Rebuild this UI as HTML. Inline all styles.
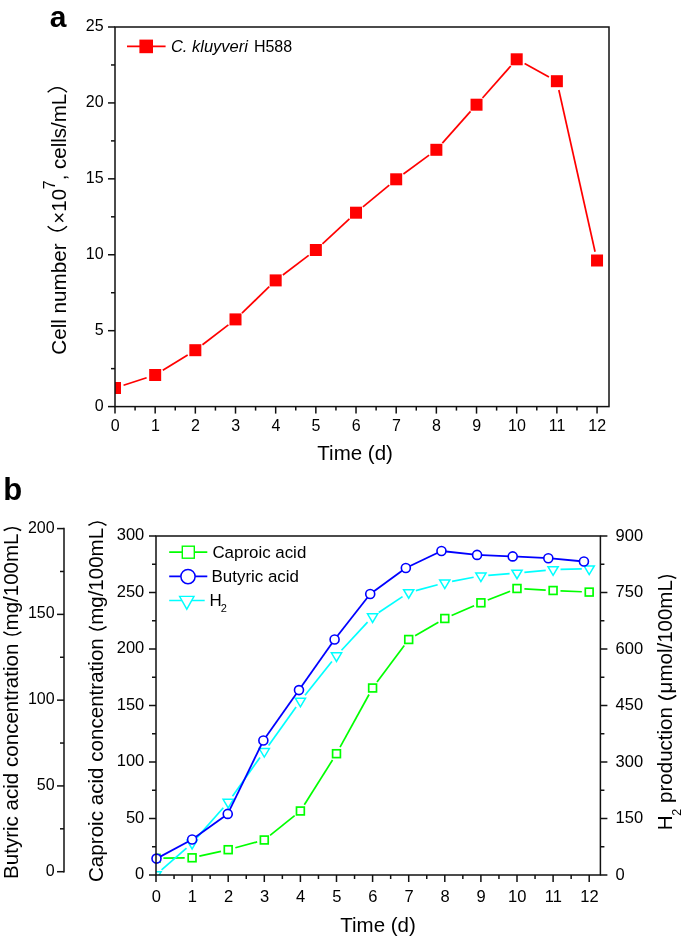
<!DOCTYPE html>
<html><head><meta charset="utf-8"><style>
html,body{margin:0;padding:0;background:#fff;}
svg{display:block;will-change:transform;}
text{font-family:"Liberation Sans", sans-serif;fill:#000;}
</style></head><body>
<svg width="685" height="939" viewBox="0 0 685 939">
<line x1="108" y1="406.6" x2="115" y2="406.6" stroke="#111" stroke-width="1.5"/>
<text x="103.6" y="410.9" font-size="16" text-anchor="end">0</text>
<line x1="111" y1="368.64" x2="115" y2="368.64" stroke="#111" stroke-width="1.5"/>
<line x1="108" y1="330.68" x2="115" y2="330.68" stroke="#111" stroke-width="1.5"/>
<text x="103.6" y="334.98" font-size="16" text-anchor="end">5</text>
<line x1="111" y1="292.72" x2="115" y2="292.72" stroke="#111" stroke-width="1.5"/>
<line x1="108" y1="254.76" x2="115" y2="254.76" stroke="#111" stroke-width="1.5"/>
<text x="103.6" y="259.06" font-size="16" text-anchor="end">10</text>
<line x1="111" y1="216.8" x2="115" y2="216.8" stroke="#111" stroke-width="1.5"/>
<line x1="108" y1="178.84" x2="115" y2="178.84" stroke="#111" stroke-width="1.5"/>
<text x="103.6" y="183.14" font-size="16" text-anchor="end">15</text>
<line x1="111" y1="140.88" x2="115" y2="140.88" stroke="#111" stroke-width="1.5"/>
<line x1="108" y1="102.92" x2="115" y2="102.92" stroke="#111" stroke-width="1.5"/>
<text x="103.6" y="107.22" font-size="16" text-anchor="end">20</text>
<line x1="111" y1="64.96" x2="115" y2="64.96" stroke="#111" stroke-width="1.5"/>
<line x1="108" y1="27" x2="115" y2="27" stroke="#111" stroke-width="1.5"/>
<text x="103.6" y="31.3" font-size="16" text-anchor="end">25</text>
<line x1="115" y1="406.6" x2="115" y2="413.6" stroke="#111" stroke-width="1.5"/>
<text x="115.2" y="430.6" font-size="16" text-anchor="middle">0</text>
<line x1="135.09" y1="406.6" x2="135.09" y2="410.6" stroke="#111" stroke-width="1.5"/>
<line x1="155.17" y1="406.6" x2="155.17" y2="413.6" stroke="#111" stroke-width="1.5"/>
<text x="155.37" y="430.6" font-size="16" text-anchor="middle">1</text>
<line x1="175.25" y1="406.6" x2="175.25" y2="410.6" stroke="#111" stroke-width="1.5"/>
<line x1="195.34" y1="406.6" x2="195.34" y2="413.6" stroke="#111" stroke-width="1.5"/>
<text x="195.54" y="430.6" font-size="16" text-anchor="middle">2</text>
<line x1="215.43" y1="406.6" x2="215.43" y2="410.6" stroke="#111" stroke-width="1.5"/>
<line x1="235.51" y1="406.6" x2="235.51" y2="413.6" stroke="#111" stroke-width="1.5"/>
<text x="235.71" y="430.6" font-size="16" text-anchor="middle">3</text>
<line x1="255.59" y1="406.6" x2="255.59" y2="410.6" stroke="#111" stroke-width="1.5"/>
<line x1="275.68" y1="406.6" x2="275.68" y2="413.6" stroke="#111" stroke-width="1.5"/>
<text x="275.88" y="430.6" font-size="16" text-anchor="middle">4</text>
<line x1="295.76" y1="406.6" x2="295.76" y2="410.6" stroke="#111" stroke-width="1.5"/>
<line x1="315.85" y1="406.6" x2="315.85" y2="413.6" stroke="#111" stroke-width="1.5"/>
<text x="316.05" y="430.6" font-size="16" text-anchor="middle">5</text>
<line x1="335.94" y1="406.6" x2="335.94" y2="410.6" stroke="#111" stroke-width="1.5"/>
<line x1="356.02" y1="406.6" x2="356.02" y2="413.6" stroke="#111" stroke-width="1.5"/>
<text x="356.22" y="430.6" font-size="16" text-anchor="middle">6</text>
<line x1="376.11" y1="406.6" x2="376.11" y2="410.6" stroke="#111" stroke-width="1.5"/>
<line x1="396.19" y1="406.6" x2="396.19" y2="413.6" stroke="#111" stroke-width="1.5"/>
<text x="396.39" y="430.6" font-size="16" text-anchor="middle">7</text>
<line x1="416.28" y1="406.6" x2="416.28" y2="410.6" stroke="#111" stroke-width="1.5"/>
<line x1="436.36" y1="406.6" x2="436.36" y2="413.6" stroke="#111" stroke-width="1.5"/>
<text x="436.56" y="430.6" font-size="16" text-anchor="middle">8</text>
<line x1="456.44" y1="406.6" x2="456.44" y2="410.6" stroke="#111" stroke-width="1.5"/>
<line x1="476.53" y1="406.6" x2="476.53" y2="413.6" stroke="#111" stroke-width="1.5"/>
<text x="476.73" y="430.6" font-size="16" text-anchor="middle">9</text>
<line x1="496.62" y1="406.6" x2="496.62" y2="410.6" stroke="#111" stroke-width="1.5"/>
<line x1="516.7" y1="406.6" x2="516.7" y2="413.6" stroke="#111" stroke-width="1.5"/>
<text x="516.9" y="430.6" font-size="16" text-anchor="middle">10</text>
<line x1="536.79" y1="406.6" x2="536.79" y2="410.6" stroke="#111" stroke-width="1.5"/>
<line x1="556.87" y1="406.6" x2="556.87" y2="413.6" stroke="#111" stroke-width="1.5"/>
<text x="557.07" y="430.6" font-size="16" text-anchor="middle">11</text>
<line x1="576.96" y1="406.6" x2="576.96" y2="410.6" stroke="#111" stroke-width="1.5"/>
<line x1="597.04" y1="406.6" x2="597.04" y2="413.6" stroke="#111" stroke-width="1.5"/>
<text x="597.24" y="430.6" font-size="16" text-anchor="middle">12</text>
<text x="317.34" y="459.6" font-size="20.5" text-anchor="start">Time (d)</text>
<text transform="translate(65.7,354.8) rotate(-90)" font-size="20.7">Cell number</text>
<path d="M47.65,226.2 Q57.3,235.5 66.95,226.2" fill="none" stroke="#000" stroke-width="1.5"/>
<text transform="translate(65.7,223.7) rotate(-90)" font-size="20.5">×10</text>
<text transform="translate(54.5,189.2) rotate(-90)" font-size="16">7</text>
<text transform="translate(65.7,180.3) rotate(-90)" font-size="20.5">, cells/mL</text>
<path d="M47.65,92.2 Q57.3,83.3 66.95,92.2" fill="none" stroke="#000" stroke-width="1.5"/>
<text x="49.7" y="26.6" font-size="30" text-anchor="start" font-weight="bold">a</text>
<clipPath id="ca"><rect x="115" y="27" width="494" height="379.6"/></clipPath>
<g clip-path="url(#ca)">
<line x1="123.56" y1="385.23" x2="146.61" y2="377.77" stroke="#ff0000" stroke-width="1.7"/>
<line x1="162.83" y1="370.27" x2="187.68" y2="354.93" stroke="#ff0000" stroke-width="1.7"/>
<line x1="202.48" y1="344.72" x2="228.37" y2="324.88" stroke="#ff0000" stroke-width="1.7"/>
<line x1="241.97" y1="313.13" x2="269.22" y2="286.67" stroke="#ff0000" stroke-width="1.7"/>
<line x1="282.86" y1="274.97" x2="308.67" y2="255.43" stroke="#ff0000" stroke-width="1.7"/>
<line x1="322.45" y1="243.88" x2="349.42" y2="218.82" stroke="#ff0000" stroke-width="1.7"/>
<line x1="362.94" y1="206.95" x2="389.27" y2="185.05" stroke="#ff0000" stroke-width="1.7"/>
<line x1="403.44" y1="173.97" x2="429.11" y2="155.13" stroke="#ff0000" stroke-width="1.7"/>
<line x1="442.35" y1="143.08" x2="470.54" y2="111.42" stroke="#ff0000" stroke-width="1.7"/>
<line x1="482.49" y1="97.96" x2="510.74" y2="66.04" stroke="#ff0000" stroke-width="1.7"/>
<line x1="524.6" y1="63.61" x2="548.97" y2="76.89" stroke="#ff0000" stroke-width="1.7"/>
<line x1="558.84" y1="89.98" x2="595.07" y2="251.72" stroke="#ff0000" stroke-width="1.7"/>
<rect x="109" y="382" width="12" height="12" fill="#ff0000"/>
<rect x="149.17" y="369" width="12" height="12" fill="#ff0000"/>
<rect x="189.34" y="344.2" width="12" height="12" fill="#ff0000"/>
<rect x="229.51" y="313.4" width="12" height="12" fill="#ff0000"/>
<rect x="269.68" y="274.4" width="12" height="12" fill="#ff0000"/>
<rect x="309.85" y="244" width="12" height="12" fill="#ff0000"/>
<rect x="350.02" y="206.7" width="12" height="12" fill="#ff0000"/>
<rect x="390.19" y="173.3" width="12" height="12" fill="#ff0000"/>
<rect x="430.36" y="143.8" width="12" height="12" fill="#ff0000"/>
<rect x="470.53" y="98.7" width="12" height="12" fill="#ff0000"/>
<rect x="510.7" y="53.3" width="12" height="12" fill="#ff0000"/>
<rect x="550.87" y="75.2" width="12" height="12" fill="#ff0000"/>
<rect x="591.04" y="254.5" width="12" height="12" fill="#ff0000"/>
</g>
<line x1="127" y1="46.4" x2="165.6" y2="46.4" stroke="#ff0000" stroke-width="1.7"/>
<rect x="139.4" y="39.6" width="13.6" height="13.6" fill="#ff0000"/>
<text x="170.9" y="51.9" font-size="16.5" text-anchor="start" font-style="italic">C. kluyveri</text>
<text x="253.9" y="51.8" font-size="16" text-anchor="start">H588</text>
<line x1="149" y1="875" x2="156" y2="875" stroke="#111" stroke-width="1.5"/>
<text x="144.3" y="879.4" font-size="16.5" text-anchor="end">0</text>
<line x1="152" y1="846.75" x2="156" y2="846.75" stroke="#111" stroke-width="1.5"/>
<line x1="149" y1="818.5" x2="156" y2="818.5" stroke="#111" stroke-width="1.5"/>
<text x="144.3" y="822.9" font-size="16.5" text-anchor="end">50</text>
<line x1="152" y1="790.25" x2="156" y2="790.25" stroke="#111" stroke-width="1.5"/>
<line x1="149" y1="762" x2="156" y2="762" stroke="#111" stroke-width="1.5"/>
<text x="144.3" y="766.4" font-size="16.5" text-anchor="end">100</text>
<line x1="152" y1="733.75" x2="156" y2="733.75" stroke="#111" stroke-width="1.5"/>
<line x1="149" y1="705.5" x2="156" y2="705.5" stroke="#111" stroke-width="1.5"/>
<text x="144.3" y="709.9" font-size="16.5" text-anchor="end">150</text>
<line x1="152" y1="677.25" x2="156" y2="677.25" stroke="#111" stroke-width="1.5"/>
<line x1="149" y1="649" x2="156" y2="649" stroke="#111" stroke-width="1.5"/>
<text x="144.3" y="653.4" font-size="16.5" text-anchor="end">200</text>
<line x1="152" y1="620.75" x2="156" y2="620.75" stroke="#111" stroke-width="1.5"/>
<line x1="149" y1="592.5" x2="156" y2="592.5" stroke="#111" stroke-width="1.5"/>
<text x="144.3" y="596.9" font-size="16.5" text-anchor="end">250</text>
<line x1="152" y1="564.25" x2="156" y2="564.25" stroke="#111" stroke-width="1.5"/>
<line x1="149" y1="536" x2="156" y2="536" stroke="#111" stroke-width="1.5"/>
<text x="144.3" y="540.4" font-size="16.5" text-anchor="end">300</text>
<line x1="600.4" y1="875" x2="607.4" y2="875" stroke="#111" stroke-width="1.5"/>
<text x="615.6" y="879.9" font-size="16.5" text-anchor="start">0</text>
<line x1="600.4" y1="846.75" x2="604.4" y2="846.75" stroke="#111" stroke-width="1.5"/>
<line x1="600.4" y1="818.5" x2="607.4" y2="818.5" stroke="#111" stroke-width="1.5"/>
<text x="615.6" y="823.4" font-size="16.5" text-anchor="start">150</text>
<line x1="600.4" y1="790.25" x2="604.4" y2="790.25" stroke="#111" stroke-width="1.5"/>
<line x1="600.4" y1="762" x2="607.4" y2="762" stroke="#111" stroke-width="1.5"/>
<text x="615.6" y="766.9" font-size="16.5" text-anchor="start">300</text>
<line x1="600.4" y1="733.75" x2="604.4" y2="733.75" stroke="#111" stroke-width="1.5"/>
<line x1="600.4" y1="705.5" x2="607.4" y2="705.5" stroke="#111" stroke-width="1.5"/>
<text x="615.6" y="710.4" font-size="16.5" text-anchor="start">450</text>
<line x1="600.4" y1="677.25" x2="604.4" y2="677.25" stroke="#111" stroke-width="1.5"/>
<line x1="600.4" y1="649" x2="607.4" y2="649" stroke="#111" stroke-width="1.5"/>
<text x="615.6" y="653.9" font-size="16.5" text-anchor="start">600</text>
<line x1="600.4" y1="620.75" x2="604.4" y2="620.75" stroke="#111" stroke-width="1.5"/>
<line x1="600.4" y1="592.5" x2="607.4" y2="592.5" stroke="#111" stroke-width="1.5"/>
<text x="615.6" y="597.4" font-size="16.5" text-anchor="start">750</text>
<line x1="600.4" y1="564.25" x2="604.4" y2="564.25" stroke="#111" stroke-width="1.5"/>
<line x1="600.4" y1="536" x2="607.4" y2="536" stroke="#111" stroke-width="1.5"/>
<text x="615.6" y="540.9" font-size="16.5" text-anchor="start">900</text>
<line x1="156" y1="875" x2="156" y2="882" stroke="#111" stroke-width="1.5"/>
<text x="156.3" y="901.5" font-size="16.5" text-anchor="middle">0</text>
<line x1="174.05" y1="875" x2="174.05" y2="879" stroke="#111" stroke-width="1.5"/>
<line x1="192.1" y1="875" x2="192.1" y2="882" stroke="#111" stroke-width="1.5"/>
<text x="192.4" y="901.5" font-size="16.5" text-anchor="middle">1</text>
<line x1="210.15" y1="875" x2="210.15" y2="879" stroke="#111" stroke-width="1.5"/>
<line x1="228.2" y1="875" x2="228.2" y2="882" stroke="#111" stroke-width="1.5"/>
<text x="228.5" y="901.5" font-size="16.5" text-anchor="middle">2</text>
<line x1="246.25" y1="875" x2="246.25" y2="879" stroke="#111" stroke-width="1.5"/>
<line x1="264.3" y1="875" x2="264.3" y2="882" stroke="#111" stroke-width="1.5"/>
<text x="264.6" y="901.5" font-size="16.5" text-anchor="middle">3</text>
<line x1="282.35" y1="875" x2="282.35" y2="879" stroke="#111" stroke-width="1.5"/>
<line x1="300.4" y1="875" x2="300.4" y2="882" stroke="#111" stroke-width="1.5"/>
<text x="300.7" y="901.5" font-size="16.5" text-anchor="middle">4</text>
<line x1="318.45" y1="875" x2="318.45" y2="879" stroke="#111" stroke-width="1.5"/>
<line x1="336.5" y1="875" x2="336.5" y2="882" stroke="#111" stroke-width="1.5"/>
<text x="336.8" y="901.5" font-size="16.5" text-anchor="middle">5</text>
<line x1="354.55" y1="875" x2="354.55" y2="879" stroke="#111" stroke-width="1.5"/>
<line x1="372.6" y1="875" x2="372.6" y2="882" stroke="#111" stroke-width="1.5"/>
<text x="372.9" y="901.5" font-size="16.5" text-anchor="middle">6</text>
<line x1="390.65" y1="875" x2="390.65" y2="879" stroke="#111" stroke-width="1.5"/>
<line x1="408.7" y1="875" x2="408.7" y2="882" stroke="#111" stroke-width="1.5"/>
<text x="409" y="901.5" font-size="16.5" text-anchor="middle">7</text>
<line x1="426.75" y1="875" x2="426.75" y2="879" stroke="#111" stroke-width="1.5"/>
<line x1="444.8" y1="875" x2="444.8" y2="882" stroke="#111" stroke-width="1.5"/>
<text x="445.1" y="901.5" font-size="16.5" text-anchor="middle">8</text>
<line x1="462.85" y1="875" x2="462.85" y2="879" stroke="#111" stroke-width="1.5"/>
<line x1="480.9" y1="875" x2="480.9" y2="882" stroke="#111" stroke-width="1.5"/>
<text x="481.2" y="901.5" font-size="16.5" text-anchor="middle">9</text>
<line x1="498.95" y1="875" x2="498.95" y2="879" stroke="#111" stroke-width="1.5"/>
<line x1="517" y1="875" x2="517" y2="882" stroke="#111" stroke-width="1.5"/>
<text x="517.3" y="901.5" font-size="16.5" text-anchor="middle">10</text>
<line x1="535.05" y1="875" x2="535.05" y2="879" stroke="#111" stroke-width="1.5"/>
<line x1="553.1" y1="875" x2="553.1" y2="882" stroke="#111" stroke-width="1.5"/>
<text x="553.4" y="901.5" font-size="16.5" text-anchor="middle">11</text>
<line x1="571.15" y1="875" x2="571.15" y2="879" stroke="#111" stroke-width="1.5"/>
<line x1="589.2" y1="875" x2="589.2" y2="882" stroke="#111" stroke-width="1.5"/>
<text x="589.5" y="901.5" font-size="16.5" text-anchor="middle">12</text>
<text x="340.24" y="932" font-size="20.5" text-anchor="start">Time (d)</text>
<line x1="64" y1="527.85" x2="64" y2="872.45" stroke="#111" stroke-width="1.5"/>
<line x1="57" y1="871.7" x2="64" y2="871.7" stroke="#111" stroke-width="1.5"/>
<text x="54.6" y="875.6" font-size="16" text-anchor="end">0</text>
<line x1="60" y1="828.81" x2="64" y2="828.81" stroke="#111" stroke-width="1.5"/>
<line x1="57" y1="785.93" x2="64" y2="785.93" stroke="#111" stroke-width="1.5"/>
<text x="54.6" y="789.83" font-size="16" text-anchor="end">50</text>
<line x1="60" y1="743.04" x2="64" y2="743.04" stroke="#111" stroke-width="1.5"/>
<line x1="57" y1="700.15" x2="64" y2="700.15" stroke="#111" stroke-width="1.5"/>
<text x="54.6" y="704.05" font-size="16" text-anchor="end">100</text>
<line x1="60" y1="657.26" x2="64" y2="657.26" stroke="#111" stroke-width="1.5"/>
<line x1="57" y1="614.38" x2="64" y2="614.38" stroke="#111" stroke-width="1.5"/>
<text x="54.6" y="618.27" font-size="16" text-anchor="end">150</text>
<line x1="60" y1="571.49" x2="64" y2="571.49" stroke="#111" stroke-width="1.5"/>
<line x1="57" y1="528.6" x2="64" y2="528.6" stroke="#111" stroke-width="1.5"/>
<text x="54.6" y="532.5" font-size="16" text-anchor="end">200</text>
<text transform="translate(17.5,878.9) rotate(-90)" font-size="20.55">Butyric acid concentration</text>
<path d="M3.35,631.8 Q12.35,638.3 21.35,631.8" fill="none" stroke="#000" stroke-width="1.5"/>
<text transform="translate(17.5,630.4) rotate(-90)" font-size="20.5">mg/100mL</text>
<path d="M3.65,530.5 Q12.4,525 21.15,530.5" fill="none" stroke="#000" stroke-width="1.5"/>
<text transform="translate(102.6,882) rotate(-90)" font-size="20.6">Caproic acid concentration</text>
<path d="M88.85,626.7 Q97.7,633.2 106.55,626.7" fill="none" stroke="#000" stroke-width="1.5"/>
<text transform="translate(102.6,624.8) rotate(-90)" font-size="20.5">mg/100mL</text>
<path d="M88.45,525.4 Q97.45,518.5 106.45,525.4" fill="none" stroke="#000" stroke-width="1.5"/>
<text transform="translate(672.4,830.3) rotate(-90)" font-size="20.5">H</text>
<text transform="translate(681,815.8) rotate(-90)" font-size="12.5">2</text>
<text transform="translate(672.4,802.9) rotate(-90)" font-size="20.5">production</text>
<path d="M658.25,695.4 Q667.25,702.9 676.25,695.4" fill="none" stroke="#000" stroke-width="1.5"/>
<text transform="translate(672.4,693.4) rotate(-90)" font-size="20.5">μmol/100mL</text>
<path d="M658.05,578.4 Q667.15,572.9 676.25,578.4" fill="none" stroke="#000" stroke-width="1.5"/>
<text x="3.3" y="499.5" font-size="31" text-anchor="start" font-weight="bold">b</text>
<clipPath id="cb"><rect x="156" y="536" width="444.4" height="339"/></clipPath>
<g clip-path="url(#cb)">
<line x1="163.4" y1="858.2" x2="184.7" y2="857.9" stroke="#00ff00" stroke-width="1.7"/>
<line x1="199.32" y1="856.18" x2="220.98" y2="851.32" stroke="#00ff00" stroke-width="1.7"/>
<line x1="235.35" y1="847.78" x2="257.15" y2="841.92" stroke="#00ff00" stroke-width="1.7"/>
<line x1="270.07" y1="835.37" x2="294.63" y2="815.63" stroke="#00ff00" stroke-width="1.7"/>
<line x1="304.34" y1="804.74" x2="332.56" y2="759.96" stroke="#00ff00" stroke-width="1.7"/>
<line x1="340.06" y1="747.21" x2="369.04" y2="694.49" stroke="#00ff00" stroke-width="1.7"/>
<line x1="377.02" y1="682.06" x2="404.28" y2="645.44" stroke="#00ff00" stroke-width="1.7"/>
<line x1="415.1" y1="635.78" x2="438.4" y2="622.22" stroke="#00ff00" stroke-width="1.7"/>
<line x1="451.59" y1="615.55" x2="474.11" y2="605.75" stroke="#00ff00" stroke-width="1.7"/>
<line x1="487.78" y1="600.07" x2="510.12" y2="591.23" stroke="#00ff00" stroke-width="1.7"/>
<line x1="524.39" y1="588.91" x2="545.71" y2="590.09" stroke="#00ff00" stroke-width="1.7"/>
<line x1="560.49" y1="590.83" x2="581.81" y2="591.77" stroke="#00ff00" stroke-width="1.7"/>
<rect x="152.1" y="854.4" width="7.8" height="7.8" fill="#fff" stroke="#00ff00" stroke-width="1.7"/>
<rect x="188.2" y="853.9" width="7.8" height="7.8" fill="#fff" stroke="#00ff00" stroke-width="1.7"/>
<rect x="224.3" y="845.8" width="7.8" height="7.8" fill="#fff" stroke="#00ff00" stroke-width="1.7"/>
<rect x="260.4" y="836.1" width="7.8" height="7.8" fill="#fff" stroke="#00ff00" stroke-width="1.7"/>
<rect x="296.5" y="807.1" width="7.8" height="7.8" fill="#fff" stroke="#00ff00" stroke-width="1.7"/>
<rect x="332.6" y="749.8" width="7.8" height="7.8" fill="#fff" stroke="#00ff00" stroke-width="1.7"/>
<rect x="368.7" y="684.1" width="7.8" height="7.8" fill="#fff" stroke="#00ff00" stroke-width="1.7"/>
<rect x="404.8" y="635.6" width="7.8" height="7.8" fill="#fff" stroke="#00ff00" stroke-width="1.7"/>
<rect x="440.9" y="614.6" width="7.8" height="7.8" fill="#fff" stroke="#00ff00" stroke-width="1.7"/>
<rect x="477" y="598.9" width="7.8" height="7.8" fill="#fff" stroke="#00ff00" stroke-width="1.7"/>
<rect x="513.1" y="584.6" width="7.8" height="7.8" fill="#fff" stroke="#00ff00" stroke-width="1.7"/>
<rect x="549.2" y="586.6" width="7.8" height="7.8" fill="#fff" stroke="#00ff00" stroke-width="1.7"/>
<rect x="585.3" y="588.2" width="7.8" height="7.8" fill="#fff" stroke="#00ff00" stroke-width="1.7"/>
<line x1="161.58" y1="869.83" x2="186.52" y2="848.07" stroke="#00ffff" stroke-width="1.7"/>
<line x1="196.99" y1="837.65" x2="223.31" y2="807.75" stroke="#00ffff" stroke-width="1.7"/>
<line x1="232.49" y1="796.17" x2="260.01" y2="757.43" stroke="#00ffff" stroke-width="1.7"/>
<line x1="268.61" y1="745.39" x2="296.09" y2="707.11" stroke="#00ffff" stroke-width="1.7"/>
<line x1="305.01" y1="695.31" x2="331.89" y2="661.49" stroke="#00ffff" stroke-width="1.7"/>
<line x1="341.53" y1="650.27" x2="367.57" y2="622.13" stroke="#00ffff" stroke-width="1.7"/>
<line x1="378.75" y1="612.58" x2="402.55" y2="596.62" stroke="#00ffff" stroke-width="1.7"/>
<line x1="415.85" y1="590.58" x2="437.65" y2="584.72" stroke="#00ffff" stroke-width="1.7"/>
<line x1="452.07" y1="581.41" x2="473.63" y2="577.29" stroke="#00ffff" stroke-width="1.7"/>
<line x1="488.28" y1="575.31" x2="509.62" y2="573.59" stroke="#00ffff" stroke-width="1.7"/>
<line x1="524.37" y1="572.31" x2="545.73" y2="570.29" stroke="#00ffff" stroke-width="1.7"/>
<line x1="560.5" y1="569.44" x2="581.8" y2="568.96" stroke="#00ffff" stroke-width="1.7"/>
<path d="M150.9,871.83 L161.1,871.83 L156,880.43 Z" fill="#fff" stroke="#00ffff" stroke-width="1.5"/>
<path d="M187,840.33 L197.2,840.33 L192.1,848.93 Z" fill="#fff" stroke="#00ffff" stroke-width="1.5"/>
<path d="M223.1,799.33 L233.3,799.33 L228.2,807.93 Z" fill="#fff" stroke="#00ffff" stroke-width="1.5"/>
<path d="M259.2,748.53 L269.4,748.53 L264.3,757.13 Z" fill="#fff" stroke="#00ffff" stroke-width="1.5"/>
<path d="M295.3,698.23 L305.5,698.23 L300.4,706.83 Z" fill="#fff" stroke="#00ffff" stroke-width="1.5"/>
<path d="M331.4,652.83 L341.6,652.83 L336.5,661.43 Z" fill="#fff" stroke="#00ffff" stroke-width="1.5"/>
<path d="M367.5,613.83 L377.7,613.83 L372.6,622.43 Z" fill="#fff" stroke="#00ffff" stroke-width="1.5"/>
<path d="M403.6,589.63 L413.8,589.63 L408.7,598.23 Z" fill="#fff" stroke="#00ffff" stroke-width="1.5"/>
<path d="M439.7,579.93 L449.9,579.93 L444.8,588.53 Z" fill="#fff" stroke="#00ffff" stroke-width="1.5"/>
<path d="M475.8,573.03 L486,573.03 L480.9,581.63 Z" fill="#fff" stroke="#00ffff" stroke-width="1.5"/>
<path d="M511.9,570.13 L522.1,570.13 L517,578.73 Z" fill="#fff" stroke="#00ffff" stroke-width="1.5"/>
<path d="M548,566.73 L558.2,566.73 L553.1,575.33 Z" fill="#fff" stroke="#00ffff" stroke-width="1.5"/>
<path d="M584.1,565.93 L594.3,565.93 L589.2,574.53 Z" fill="#fff" stroke="#00ffff" stroke-width="1.5"/>
</g>
<line x1="156.5" y1="858.6" x2="192.12" y2="839.5" stroke="#0000ff" stroke-width="1.8"/>
<line x1="192.12" y1="839.5" x2="227.74" y2="813.9" stroke="#0000ff" stroke-width="1.8"/>
<line x1="227.74" y1="813.9" x2="263.36" y2="740.5" stroke="#0000ff" stroke-width="1.8"/>
<line x1="263.36" y1="740.5" x2="298.98" y2="690.1" stroke="#0000ff" stroke-width="1.8"/>
<line x1="298.98" y1="690.1" x2="334.6" y2="639.5" stroke="#0000ff" stroke-width="1.8"/>
<line x1="334.6" y1="639.5" x2="370.22" y2="594" stroke="#0000ff" stroke-width="1.8"/>
<line x1="370.22" y1="594" x2="405.84" y2="568" stroke="#0000ff" stroke-width="1.8"/>
<line x1="405.84" y1="568" x2="441.46" y2="551" stroke="#0000ff" stroke-width="1.8"/>
<line x1="441.46" y1="551" x2="477.08" y2="554.9" stroke="#0000ff" stroke-width="1.8"/>
<line x1="477.08" y1="554.9" x2="512.7" y2="556.4" stroke="#0000ff" stroke-width="1.8"/>
<line x1="512.7" y1="556.4" x2="548.32" y2="558.2" stroke="#0000ff" stroke-width="1.8"/>
<line x1="548.32" y1="558.2" x2="583.94" y2="561.5" stroke="#0000ff" stroke-width="1.8"/>
<circle cx="156.5" cy="858.6" r="4.5" fill="#fff" stroke="#0000ff" stroke-width="1.6"/>
<circle cx="192.12" cy="839.5" r="4.5" fill="#fff" stroke="#0000ff" stroke-width="1.6"/>
<circle cx="227.74" cy="813.9" r="4.5" fill="#fff" stroke="#0000ff" stroke-width="1.6"/>
<circle cx="263.36" cy="740.5" r="4.5" fill="#fff" stroke="#0000ff" stroke-width="1.6"/>
<circle cx="298.98" cy="690.1" r="4.5" fill="#fff" stroke="#0000ff" stroke-width="1.6"/>
<circle cx="334.6" cy="639.5" r="4.5" fill="#fff" stroke="#0000ff" stroke-width="1.6"/>
<circle cx="370.22" cy="594" r="4.5" fill="#fff" stroke="#0000ff" stroke-width="1.6"/>
<circle cx="405.84" cy="568" r="4.5" fill="#fff" stroke="#0000ff" stroke-width="1.6"/>
<circle cx="441.46" cy="551" r="4.5" fill="#fff" stroke="#0000ff" stroke-width="1.6"/>
<circle cx="477.08" cy="554.9" r="4.5" fill="#fff" stroke="#0000ff" stroke-width="1.6"/>
<circle cx="512.7" cy="556.4" r="4.5" fill="#fff" stroke="#0000ff" stroke-width="1.6"/>
<circle cx="548.32" cy="558.2" r="4.5" fill="#fff" stroke="#0000ff" stroke-width="1.6"/>
<circle cx="583.94" cy="561.5" r="4.5" fill="#fff" stroke="#0000ff" stroke-width="1.6"/>
<line x1="169.2" y1="552.1" x2="207.3" y2="552.1" stroke="#00ff00" stroke-width="1.7"/>
<rect x="182.3" y="546.2" width="12" height="12" fill="#fff" stroke="#00ff00" stroke-width="1.4"/>
<line x1="169.2" y1="576.4" x2="207.3" y2="576.4" stroke="#0000ff" stroke-width="1.7"/>
<circle cx="188" cy="576.6" r="7.1" fill="#fff" stroke="#0000ff" stroke-width="1.5"/>
<line x1="169.2" y1="600.5" x2="204.7" y2="600.5" stroke="#00ffff" stroke-width="1.7"/>
<path d="M179.6,596.4 L194,596.4 L186.8,609.2 Z" fill="#fff" stroke="#00ffff" stroke-width="1.4"/>
<text x="212.4" y="557.5" font-size="16.9" text-anchor="start">Caproic acid</text>
<text x="211.6" y="581.7" font-size="16.9" text-anchor="start">Butyric acid</text>
<text x="209.5" y="605.5" font-size="16.9" text-anchor="start">H</text>
<text x="220.7" y="612.4" font-size="11" text-anchor="start">2</text>
<rect x="115" y="27" width="494" height="379.6" fill="none" stroke="#111" stroke-width="1.5"/>
<rect x="156" y="536" width="444.4" height="339" fill="none" stroke="#111" stroke-width="1.5"/>
</svg>
</body></html>
